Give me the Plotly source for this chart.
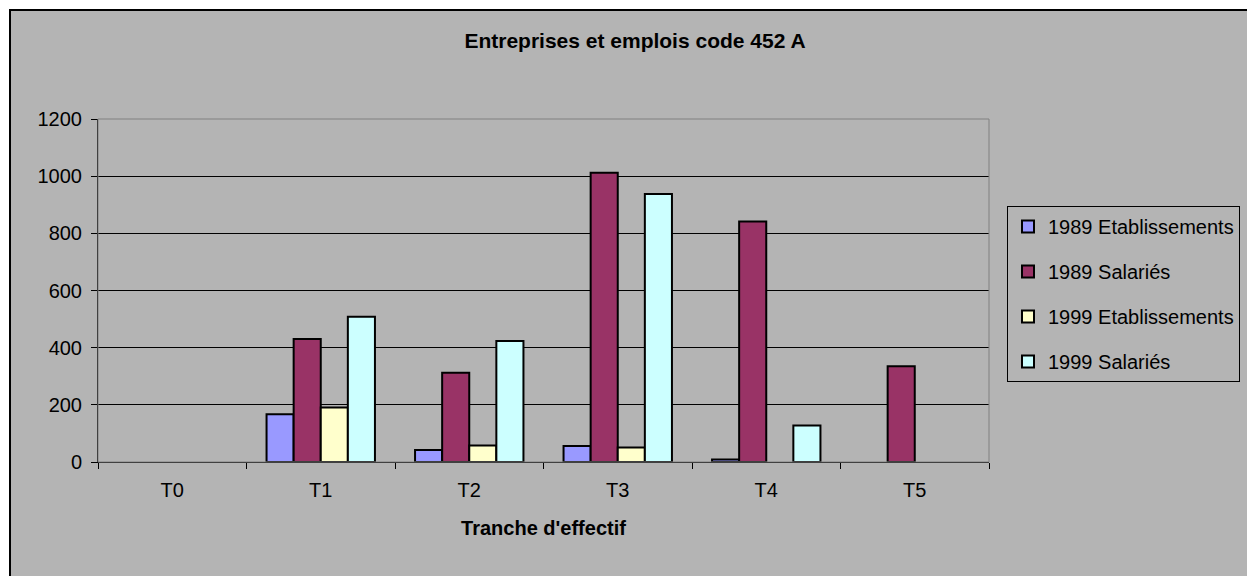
import plotly.graph_objects as go

categories = ["T0", "T1", "T2", "T3", "T4", "T5"]
etab_1989 = [0, 167, 42, 56, 9, 0]
sal_1989 = [0, 430, 312, 1012, 841, 335]
etab_1999 = [0, 191, 58, 51, 0, 0]
sal_1999 = [0, 508, 423, 938, 128, 0]

series = [
    ("1989 Etablissements", etab_1989, "#9999FF"),
    ("1989 Salariés", sal_1989, "#993366"),
    ("1999 Etablissements", etab_1999, "#FFFFCC"),
    ("1999 Salariés", sal_1999, "#CCFFFF"),
]

W, H = 1247, 576
L, R, T, B = 98, 989, 119, 462
pw, ph = R - L, B - T

def px_x(x):
    return (x - L) / pw

def px_y(y):
    return (B - y) / ph

fig = go.Figure()
for i, (name, vals, col) in enumerate(series):
    # zero values draw no bar at all (as in the original)
    fig.add_trace(go.Bar(
        x=categories, y=[v if v else None for v in vals], name=name,
        legendgroup=f"g{i}",
        marker=dict(color=col, line=dict(color="black", width=2)),
    ))

fig.update_layout(
    width=W, height=H,
    margin=dict(l=L, r=W - R, t=T, b=H - B, autoexpand=False),
    paper_bgcolor="white",
    plot_bgcolor="#C0C0C0",
    barmode="group", bargap=0.27, bargroupgap=0,
    font=dict(family="Liberation Sans, Arial, sans-serif", size=20, color="black"),
    title=dict(text="<b>Entreprises et emplois code 452 A</b>", x=px_x(635), xref="paper",
               xanchor="center", y=1 - 41 / H, yanchor="middle", yref="container",
               font=dict(size=21)),
    showlegend=True,
    legend=dict(x=px_x(1007), y=px_y(206), xanchor="left", yanchor="top",
                bgcolor="rgba(0,0,0,0)", bordercolor="black", borderwidth=1,
                tracegroupgap=16, font=dict(size=20), itemwidth=30,
                traceorder="grouped"),
    xaxis=dict(
        tickson="boundaries", ticks="outside", ticklen=6, tickcolor="black",
        showline=True, linecolor="black", linewidth=1, showgrid=False,
        ticklabelstandoff=10,
        title=dict(text="<b>Tranche d'effectif</b>", font=dict(size=20), standoff=20),
    ),
    yaxis=dict(
        range=[0, 1200], dtick=200, ticks="outside", ticklen=6, tickcolor="black",
        showline=True, linecolor="black", linewidth=1,
        showgrid=True, gridcolor="black", gridwidth=1, zeroline=False,
        ticklabelstandoff=5,
    ),
    shapes=[
        dict(type="rect", xref="paper", yref="paper", layer="below",
             x0=px_x(10), x1=px_x(1260), y0=px_y(10), y1=px_y(590),
             fillcolor="#B4B4B4", line=dict(color="black", width=2)),
        dict(type="rect", xref="paper", yref="paper", layer="above",
             x0=0, x1=1, y0=0, y1=1,
             line=dict(color="#808080", width=1)),
    ],
)

fig.write_html("out.html")
